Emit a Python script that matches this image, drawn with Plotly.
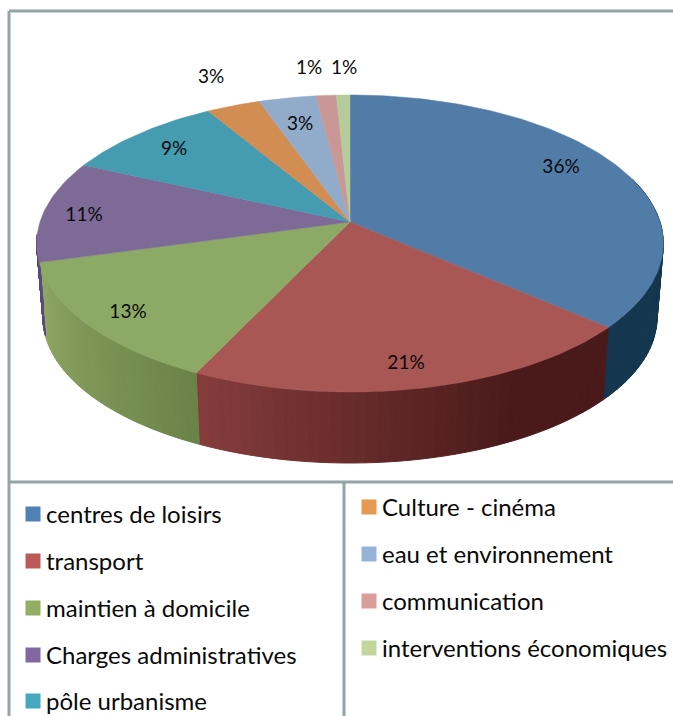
import math
import plotly.graph_objects as go

# Chart data
categories = ["centres de loisirs", "transport", "maintien à domicile", "Charges administratives",
              "pôle urbanisme", "Culture - cinéma", "eau et environnement", "communication",
              "interventions économiques"]
values = [36.4, 20.7, 13.6, 11.1, 9.6, 3.2, 3.4, 1.2, 0.8]
pct_labels = ["36%", "21%", "13%", "11%", "9%", "3%", "3%", "1%", "1%"]

# Styles
top_colors = ["#517ca8", "#a85755", "#8ca966", "#7d6a97", "#459bb0", "#d28e52", "#91abcb", "#c99796", "#b5cb9a"]
swatch_colors = ["#4f81b5", "#bb5a58", "#92ae63", "#8067a2", "#45a8be", "#e59a50", "#95b3d7", "#d99e9c", "#c3d69b"]
side_start = ["#14364f", "#4a1a1b", "#6b8348", "#5d4a7e"]
side_end = ["#14364f", "#853d3c", "#8fa866", "#5d4a7e"]
FONT = "Lato"
FRAME = "#93a5a5"
CX, CY, K, R, S = 350, 222, 0.1448, 310, 145.4
SHRINK, DROP = 0.98, 74.4


def project(frac):
    a = 2 * math.pi * frac
    u, v = math.sin(a), -math.cos(a)
    d = 1 - K * v
    return CX + R * u / d, CY + S * v / d


def lower(x, y):
    return CX + (x - CX) * SHRINK, CY + DROP + (y - CY) * SHRINK


def mix(c1, c2, t):
    a = [int(c1[i:i + 2], 16) for i in (1, 3, 5)]
    b = [int(c2[i:i + 2], 16) for i in (1, 3, 5)]
    return "rgb(%d,%d,%d)" % tuple(round(p + (q - p) * t) for p, q in zip(a, b))


fig = go.Figure()
edges = [0.0]
for val in values:
    edges.append(edges[-1] + val / sum(values))

# Side wall, drawn as shaded strips for the front-facing slices
for i in range(len(side_start)):
    start, end = edges[i], edges[i + 1]
    if i == 0:
        start = 0.2
    if i == 3:
        end = edges[i] + 0.03
    n = 40
    for j in range(n):
        f0 = start + (end - start) * j / n
        f1 = start + (end - start) * (j + 1) / n
        top = [project(f0), project(f1)]
        bot = [lower(*p) for p in top]
        poly = top + bot[::-1] + top[:1]
        t = (j + 0.5) / n
        # the red side stays at its darkest tone for the first third
        if i == 1:
            t = max(0.0, (t - 0.3) / 0.7)
        color = mix(side_start[i], side_end[i], t)
        fig.add_trace(go.Scatter(x=[p[0] for p in poly], y=[p[1] for p in poly], mode="lines",
                                 fill="toself", fillcolor=color,
                                 line=dict(color=color, width=1), hoverinfo="skip", showlegend=False))

# Top face
for i, name in enumerate(categories):
    n = max(6, int(values[i] * 3))
    arc = [project(edges[i] + (edges[i + 1] - edges[i]) * m / n) for m in range(n + 1)]
    poly = [(CX, CY)] + arc + [(CX, CY)]
    fig.add_trace(go.Scatter(x=[p[0] for p in poly], y=[p[1] for p in poly], mode="lines",
                             fill="toself", fillcolor=top_colors[i], name=name,
                             line=dict(color=top_colors[i], width=0.5), showlegend=False))

# Percentage labels
label_x = [561, 406, 128, 84, 174, 211, 300, 309, 344]
label_y = [168, 364, 313, 216, 150, 78, 125, 69, 69]
fig.add_trace(go.Scatter(x=label_x, y=label_y, mode="text", text=pct_labels, textposition="middle center",
                         textfont=dict(family=FONT, size=19, color="#0a0a0a"), hoverinfo="skip", showlegend=False))

# Two-column legend
legend_x = [33] * 5 + [369] * 4
legend_y = [514, 561, 608, 655, 701, 507, 554, 601, 648]
fig.add_trace(go.Scatter(x=legend_x, y=legend_y, mode="markers",
                         marker=dict(symbol="square", size=15, color=swatch_colors, line=dict(width=0)),
                         hoverinfo="skip", showlegend=False))
fig.add_trace(go.Scatter(x=[v + 13 for v in legend_x], y=[v + 3 for v in legend_y], mode="text", text=categories,
                         textposition="middle right",
                         textfont=dict(family=FONT, size=24, color="#0a0a0a"), hoverinfo="skip", showlegend=False))

# Frame lines
frame = [(9, 11, 673, 11), (9, 11, 9, 716), (9, 482, 673, 482), (344, 482, 344, 716)]
shapes = [dict(type="line", x0=a, y0=b, x1=c, y1=d, xref="x", yref="y", line=dict(color=FRAME, width=3))
          for a, b, c, d in frame]

fig.update_layout(width=673, height=716, margin=dict(l=0, r=0, t=0, b=0), autosize=False,
                  paper_bgcolor="white", plot_bgcolor="white", shapes=shapes,
                  xaxis=dict(range=[0, 673], visible=False, fixedrange=True),
                  yaxis=dict(range=[716, 0], visible=False, fixedrange=True))
fig.write_html("out.html", config=dict(displayModeBar=False),
               post_script="document.documentElement.style.overflow='hidden';document.body.style.margin='0';")
